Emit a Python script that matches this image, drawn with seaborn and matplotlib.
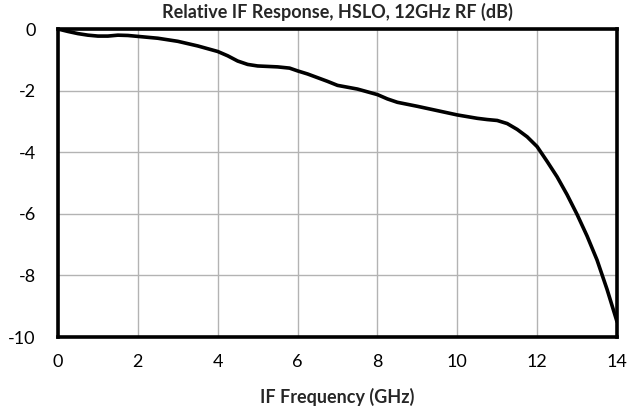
import numpy as np
import pandas as pd
import matplotlib
matplotlib.use("Agg")
import matplotlib.pyplot as plt
import seaborn as sns

# IF response
freq_ghz = [0, 0.25, 0.5, 0.75, 1.0, 1.25, 1.5, 1.75, 2.0, 2.5, 3.0, 3.5, 4.0, 4.25, 4.5,
            4.75, 5.0, 5.5, 5.8, 6.0, 6.25, 6.5, 6.75, 7.0, 7.5, 8.0, 8.25, 8.5, 9.0, 9.5,
            10.0, 10.5, 10.75, 11.0, 11.25, 11.5, 11.75, 12.0, 12.25, 12.5, 12.75, 13.0,
            13.25, 13.5, 13.75, 14.0]
response_db = [0, -0.08, -0.15, -0.2, -0.23, -0.23, -0.2, -0.21, -0.24, -0.3, -0.4, -0.55,
               -0.73, -0.87, -1.04, -1.15, -1.2, -1.23, -1.27, -1.36, -1.46, -1.58, -1.7,
               -1.83, -1.95, -2.13, -2.27, -2.38, -2.51, -2.65, -2.79, -2.9, -2.94, -2.97,
               -3.07, -3.26, -3.5, -3.82, -4.3, -4.8, -5.38, -6.02, -6.72, -7.5, -8.45, -9.5]
x_ticks = [0, 2, 4, 6, 8, 10, 12, 14]
y_ticks = [0, -2, -4, -6, -8, -10]

df = pd.DataFrame({"freq": freq_ghz, "resp": response_db})

sns.set_style("white")
plt.rcParams["font.family"] = ["Lato", "DejaVu Sans"]

fig = plt.figure(figsize=(6.39, 4.12), dpi=100)
ax = fig.add_axes([58 / 639, 75 / 412, 559 / 639, 308 / 412])

sns.lineplot(data=df, x="freq", y="resp", color="black", linewidth=2.6, ax=ax)
ax.lines[0].set_solid_joinstyle("round")

ax.set_xlim(0, 14)
ax.set_ylim(-10, 0)
ax.set_xticks(x_ticks)
ax.set_yticks(y_ticks)
ax.set_yticklabels([str(v) for v in y_ticks])
ax.grid(True, color="#b3b3b3", linewidth=1)
ax.tick_params(length=0, labelsize=13, colors="black")
ax.tick_params(axis="x", pad=12)
ax.tick_params(axis="y", pad=16)
for s in ax.spines.values():
    s.set_color("black")
    s.set_linewidth(2.6)
    s.set_visible(True)

ax.set_title("Relative IF Response, HSLO, 12GHz RF (dB)", fontsize=13,
             fontweight="bold", pad=8)
ax.set_xlabel("IF Frequency (GHz)", fontsize=13, fontweight="bold", labelpad=13)
ax.set_ylabel("")

fig.savefig("out.png", dpi=100)
